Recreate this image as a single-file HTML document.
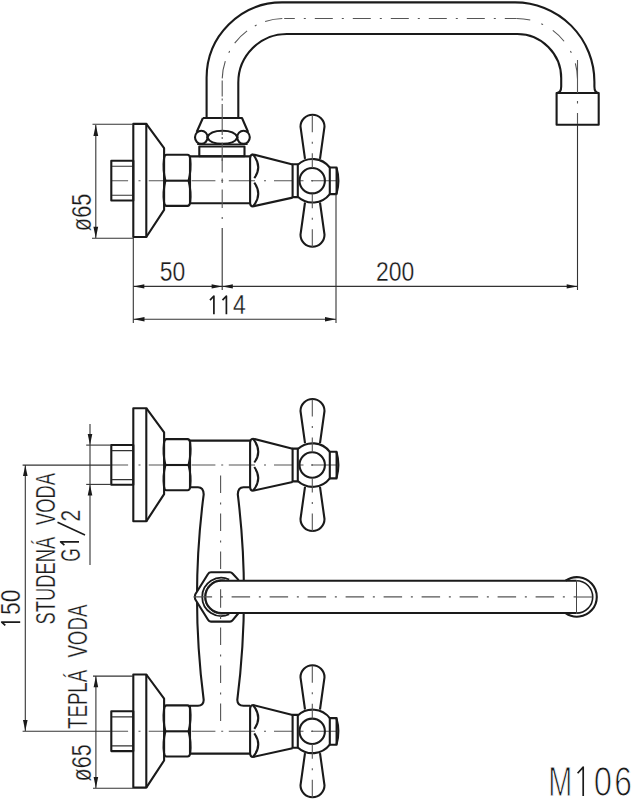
<!DOCTYPE html>
<html><head><meta charset="utf-8">
<style>
html,body{margin:0;padding:0;background:#fff;width:632px;height:800px;overflow:hidden}
svg{display:block}
text{font-family:"Liberation Sans",sans-serif;fill:#1a1a1a;stroke:#fff;stroke-width:0.3px}
</style></head><body>
<svg width="632" height="800" viewBox="0 0 632 800">
<defs>
  <g id="valve">
    <!-- centerline -->
    <path d="M111.3,0 H128.1 M138.5,0 H140.5 M148.7,0 H164 M191.6,0 H215.4 M221.2,0 H223.2 M228.8,0 H255 M264,0 H266 M274,0 H292.6 M299,0 H303.5 M311,0 H336.5" stroke="#555" stroke-width="1.1" fill="none"/>
    <g fill="none" stroke="#1a1a1a" stroke-width="2.1" stroke-linejoin="round">
      <!-- pipe stub -->
      <rect x="111.3" y="-20" width="22" height="39.8"/>
      <path d="M112,-14.4 H133 M112,14.6 H133" stroke-width="1.1" stroke="#333"/>
      <!-- flange plate -->
      <rect x="133.3" y="-56.8" width="13" height="113.1"/>
      <!-- cone -->
      <path d="M146.3,-56.8 L164.1,-32.6 L164.1,29.2 L146.3,56.3"/>
      <!-- hex nut -->
      <path d="M166.5,-25.9 H187.5 Q189.9,-25.9 190.2,-22 Q191.4,-11 188.6,0 Q191.4,11 190.2,21.5 Q189.9,25.2 187.5,25.2 H166.5 Q164.3,25.2 164,21.5 Q162.6,11 165.4,0 Q162.6,-11 164,-22 Q164.3,-25.9 166.5,-25.9 Z"/>
      <line x1="164.5" y1="0" x2="189.5" y2="0"/>
      <!-- handle cone -->
      <path d="M253,-26.3 L292.6,-16.2 M253,25.7 L292.6,16.9"/>
      <path d="M253,-26.3 Q262.8,-14 254.3,-2.5 M254.3,2 Q262.8,14 253,25.7"/>
      <path d="M253,-26.3 Q250.1,-26 250.1,-22.5 V21.5 Q250.1,25.7 253,25.7"/>
      <!-- ring -->
      <rect x="292.6" y="-16.4" width="5.2" height="32.8"/>
      <!-- hub -->
      <path d="M297.8,-15.9 A21.8,21.8 0 0 1 329.8,-13.2 M329.8,13.4 A21.8,21.8 0 0 1 297.8,16.1"/>
      <circle cx="312.2" cy="0" r="12.7"/>
      <!-- end cap -->
      <rect x="329.8" y="-13.2" width="6.8" height="26.6"/>
      <path d="M336.6,-12.6 Q340.2,0 336.6,12.8"/>
      <!-- blades -->
      <path d="M305,-21.8 L300.5,-54 A12,12 0 0 1 324.5,-54 L320,-21.8"/>
      <path d="M305,21.8 L300.5,54 A12,12 0 0 0 324.5,54 L320,21.8"/>
    </g>
    <path d="M312.3,-65.5 V-48.5 M312.3,-39 V-37 M312.3,-27.5 V-12.7 M312.3,-0.8 V0.8 M312.3,12.7 V27.5 M312.3,37 V39 M312.3,48.5 V66.5" stroke="#555" stroke-width="1.1" fill="none"/>
  </g>
  <g id="arrowR"><path d="M0,0 L-11,-2.4 L-11,2.4 Z" fill="#1a1a1a"/></g>
</defs>

<!-- ================= TOP FIGURE ================= -->
<use href="#valve" transform="translate(0,180.7)"/>
<g fill="none" stroke="#1a1a1a" stroke-width="2.1" stroke-linejoin="round">
  <!-- body -->
  <path d="M190,156.4 H250.1 M190,203.2 H250.1 M190,156.4 V203.2"/>
  <!-- neck -->
  <rect x="199.3" y="146.5" width="45.2" height="9.8"/>
  <line x1="197.2" y1="144.3" x2="247.6" y2="144.3" stroke-width="1.4"/>
  <path d="M202.9,118 L242,118 L248.1,132 M202.9,118 L196.7,132"/>
  <ellipse cx="201.3" cy="137.3" rx="6.3" ry="6.6"/>
  <ellipse cx="243.5" cy="137.3" rx="6.3" ry="6.6"/>
  <path d="M207.3,137.3 C211,128.6 233.8,128.6 237.5,137.3 C233.8,146 211,146 207.3,137.3 Z"/>
  <!-- spout -->
  <path d="M206.6,118 L206.6,77.7 A75.4,75.4 0 0 1 282,2.4 L515.1,2.4 A79.3,79.3 0 0 1 594.4,81.7 L594.4,86.5 Q594.4,93 598.7,93"/>
  <path d="M238.3,118 L238.3,82.5 A48.5,48.5 0 0 1 286.8,34 L517.2,34 A44,44 0 0 1 561.2,78 L561.2,86.5 Q561.2,93 556.6,93"/>
  <rect x="556.6" y="93" width="42.1" height="31.8"/>
</g>
<!-- spout centerline -->
<g fill="none" stroke="#555" stroke-width="1.1">
  <path d="M222.2,161 V142.5 M222.2,138.9 V136.9 M222.2,135 V104 M222.2,100.4 V98.4 M222.2,96.6 V80.5"/>
  <path d="M222.2,80.5 A62,62 0 0 1 284.2,18.5" stroke-dasharray="17.5 9.1 2 9.2" stroke-dashoffset="35.6"/>
  <path d="M284.2,18.5 H516.6" stroke-dasharray="18 9 2 9" stroke-dashoffset="7.4"/>
  <path d="M516.6,18.5 A60.9,60.9 0 0 1 577.5,79.4" stroke-dasharray="15.6 11.6 2 11.3" stroke-dashoffset="1.8"/>
  <path d="M577.5,60 V93"/>
</g>
<path d="M577.5,101 V103.5 M577.5,113 V124" stroke="#555" stroke-width="1.1"/>
<!-- dims top -->
<g stroke="#333" stroke-width="1.1" fill="none">
  <line x1="92.5" y1="124.2" x2="133" y2="124.2"/>
  <line x1="92" y1="238.3" x2="133" y2="238.3"/>
  <line x1="95.8" y1="125" x2="95.8" y2="238"/>
  <line x1="133.3" y1="238" x2="133.3" y2="323"/>
  <line x1="222.2" y1="228" x2="222.2" y2="290"/>
  <line x1="336" y1="194" x2="336" y2="323"/>
  <line x1="577.5" y1="124.8" x2="577.5" y2="290"/>
  <line x1="133.3" y1="286.4" x2="577.5" y2="286.4"/>
  <line x1="133.3" y1="319.2" x2="336" y2="319.2"/>
</g>
<path d="M222.2,158.5 V172.6 M222.2,178.5 V183 M222.2,189.5 V208 M222.2,217 V219" stroke="#555" stroke-width="1.1" fill="none"/>
<g fill="#1a1a1a">
  <path d="M95.8,124.8 L93.4,136 L98.2,136 Z"/>
  <path d="M95.8,238 L93.4,226.8 L98.2,226.8 Z"/>
  <path d="M133.5,286.4 L144.3,284.3 L144.3,288.5 Z"/>
  <path d="M222.2,286.4 L211.6,284.3 L211.6,288.5 Z"/>
  <path d="M222.2,286.4 L232.8,284.3 L232.8,288.5 Z"/>
  <path d="M577.5,286.4 L566.7,284.3 L566.7,288.5 Z"/>
  <path d="M133.5,319.2 L144.5,316.9 L144.5,321.5 Z"/>
  <path d="M336,319.2 L325,316.9 L325,321.5 Z"/>
</g>
<g font-size="27">
  <text transform="translate(159.8,281.3) scale(0.85,1)">50</text>
  <text transform="translate(376,280.8) scale(0.85,1)">200</text>
  <text transform="translate(232.9,314.2) scale(0.85,1)">4</text>
  <path d="M213.9,314.2 V296 L210,300.2 M226.4,314.2 V296 L222.5,300.2" stroke="#1a1a1a" stroke-width="1.7" fill="none" stroke-linejoin="round"/>
  <text transform="translate(91,231.2) rotate(-90) scale(0.81,1)">ø65</text>
</g>

<!-- ================= BOTTOM FIGURE ================= -->
<use href="#valve" transform="translate(0,465)"/>
<use href="#valve" transform="translate(0,731.3)"/>
<g fill="none" stroke="#1a1a1a" stroke-width="2.1" stroke-linejoin="round">
  <!-- upper body -->
  <path d="M190,440.6 H250.1 M250.1,487.2 H243.5 Q238,487.2 237.8,494.4 Q250.4,597 237.3,700 Q237.5,705.7 243.5,705.7 H250.1 M250.1,753.6 H190 V705.7 H198 Q203.5,705.7 203.7,700 Q190.3,597 203.7,494.4 Q203.5,487.2 198,487.2 H190"/>
  <line x1="190" y1="487.2" x2="190" y2="440.6"/>
  <!-- spout nut -->
  <path d="M238.2,579.6 L232.5,573.5 Q231.5,572.3 230,572.3 H211 Q209,572.3 208,574 L195.2,594.5 Q194.5,596.9 195.2,599.3 L208,619.8 Q209,621.6 211,621.6 H230 Q231.5,621.6 232.5,620.4 L238.2,613.5 Z" fill="#fff"/>
  <!-- ring -->
  <path d="M229.2,579.5 A19.1,19.1 0 1 0 229.2,614.3" stroke-width="1.8"/>
  <!-- spout -->
  <path d="M576.5,580.8 H221.5 A16.1,16.1 0 0 0 221.5,613 H576.5" fill="#fff" stroke-width="2"/>
  <path d="M565.6,580.7 A19.8,19.8 0 1 1 565.6,613.1"/>
  <path d="M576.5,580.7 A16.2,16.2 0 0 1 576.5,613.1" stroke-width="1.6"/>
</g>
<g fill="none" stroke="#444" stroke-width="1">
  <path d="M225,580 A17.2,17.2 0 1 0 225,613.8" stroke="#1a1a1a" stroke-width="0.9"/>
  <line x1="576.5" y1="580.7" x2="576.5" y2="613.1"/>
  <line x1="576.5" y1="597" x2="592.5" y2="597"/>
</g>
<line x1="193.6" y1="596.9" x2="576.5" y2="596.9" stroke="#555" stroke-width="1.1" stroke-dasharray="18.5 8.75 2 8.75"/>
<path d="M220.6,475.5 V493.0 M220.6,502.5 V504.5 M220.6,513.5 V531.0 M220.6,540.5 V542.5 M220.6,551.5 V569.0 M220.6,627.5 V645.0 M220.6,654.5 V656.5 M220.6,665.5 V683.0 M220.6,692.5 V694.5 M220.6,703.5 V721.0 M220.6,589.2 V607.7 M220.6,615.6 V619" stroke="#555" stroke-width="1.1" fill="none"/>
<!-- dims bottom -->
<g stroke="#333" stroke-width="1.1" fill="none">
  <line x1="22.6" y1="465.1" x2="111" y2="465.1"/>
  <line x1="22.6" y1="731.2" x2="111" y2="731.2"/>
  <line x1="25.3" y1="465" x2="25.3" y2="731"/>
  <line x1="90" y1="424" x2="90" y2="565"/>
  <line x1="86.2" y1="445.1" x2="111" y2="445.1"/>
  <line x1="86.2" y1="484.4" x2="111" y2="484.4"/>
  <line x1="95.9" y1="676" x2="95.9" y2="788"/>
  <line x1="93" y1="676.1" x2="133" y2="676.1"/>
  <line x1="93" y1="788.2" x2="133" y2="788.2"/>
</g>
<g fill="#1a1a1a">
  <path d="M25.3,465.2 L23,476 L27.6,476 Z"/>
  <path d="M25.3,731 L23,720 L27.6,720 Z"/>
  <path d="M90,445 L87.7,434 L92.3,434 Z"/>
  <path d="M90,484.5 L87.7,495.5 L92.3,495.5 Z"/>
  <path d="M95.9,676.2 L93.6,687.2 L98.2,687.2 Z"/>
  <path d="M95.9,788 L93.6,777 L98.2,777 Z"/>
</g>
<g font-size="27">
  <text transform="translate(19.9,615.1) rotate(-90) scale(0.85,1)">50</text>
  <path d="M20.2,622.1 H1.7 L5.3,625.4" stroke="#1a1a1a" stroke-width="1.7" fill="none" stroke-linejoin="round"/>
  <text transform="translate(54.7,624.5) rotate(-90) scale(0.68,1)">STUDENÁ</text>
  <text transform="translate(54.7,525) rotate(-90) scale(0.68,1)">VODA</text>
  <text transform="translate(79.5,561.8) rotate(-90) scale(0.64,1)">G</text>
  <path d="M79,541.8 H60.6 L64.4,545.1" stroke="#1a1a1a" stroke-width="1.7" fill="none" stroke-linejoin="round"/>
  <text transform="translate(79.5,521.6) rotate(-90) scale(0.78,1)">2</text>
  <line x1="57.5" y1="522.3" x2="85" y2="535" stroke="#1a1a1a" stroke-width="1.6"/>
  <text transform="translate(86.5,729) rotate(-90) scale(0.68,1)" font-size="27.5">TEPLÁ</text>
  <text transform="translate(86.5,657.6) rotate(-90) scale(0.68,1)" font-size="27.5">VODA</text>
  <text transform="translate(90.8,781.4) rotate(-90) scale(0.8,1)">ø65</text>
</g>
<text transform="translate(548.2,796.1) scale(0.675,1)" font-size="42.7" style="stroke-width:1.1px">M</text>
<text transform="translate(593.7,796.1) scale(0.77,1)" font-size="42.7" style="stroke-width:1.1px">0</text>
<text transform="translate(614.3,796.1) scale(0.743,1)" font-size="42.7" style="stroke-width:1.1px">6</text>
<path d="M583.2,796 V767.1 L577.6,773.2" stroke="#1a1a1a" stroke-width="1.7" fill="none" stroke-linejoin="round"/>
</svg>
</body></html>
